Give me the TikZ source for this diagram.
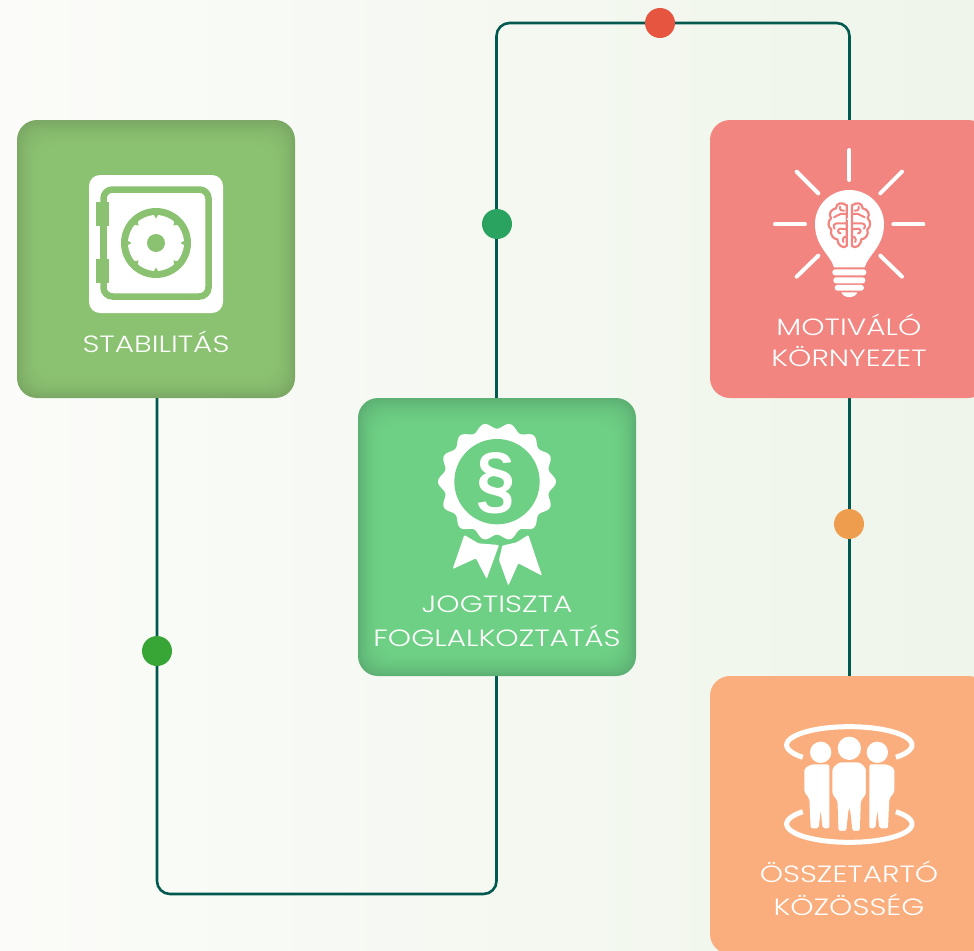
\documentclass[tikz,border=0pt]{standalone}
\usepackage{fontspec}
\setmainfont{Poppins Light}[FakeStretch=1.26]
\newfontfamily\symfont{Liberation Sans}
\definecolor{linec}{HTML}{00594F}
\definecolor{gA}{HTML}{8BC271}\definecolor{gAe}{HTML}{7BA864}
\definecolor{gB}{HTML}{6ED084}\definecolor{gBe}{HTML}{5DB073}
\definecolor{pk}{HTML}{F28580}
\definecolor{og}{HTML}{FBAE7D}
\definecolor{bgL}{HTML}{FBFCF9}\definecolor{bgR}{HTML}{EFF5EA}
\definecolor{dR}{HTML}{E5553F}\definecolor{dG}{HTML}{2AA360}\definecolor{dO}{HTML}{EE9C4E}\definecolor{dL}{HTML}{38A637}
\newcommand{\bevelbox}[4]{%
  \foreach \i in {0,...,27}{%
    \pgfmathsetmacro\pc{100*(1-\i/27)*(1-\i/27)}%
    \fill[#3!\pc!#4,rounded corners=20pt]
      ({#1-139+\i*0.9},{#2-139+\i*1.1}) rectangle ({#1+139-\i*0.9},{#2+139-\i*0.9});
  }%
}
\tikzset{
  boxnode/.style={rectangle,minimum width=278pt,minimum height=278pt,inner sep=0pt},
  conn/.style={draw=linec,line width=2.6pt,rounded corners=13pt},
  dotn/.style={circle,minimum size=30pt,inner sep=0pt},
  lab/.style={text=white,font=\fontsize{23.5}{25}\selectfont,inner sep=0pt,anchor=center},
  ray/.style={draw=white,line width=4pt,line cap=round}
}
\begin{document}
\begin{tikzpicture}[x=1pt,y=-1pt]
\useasboundingbox (0,0) rectangle (974,950);
\clip (0,0) rectangle (974,950);
\shade[left color=bgL,right color=bgR] (0,0) rectangle (974,950);
% box anchors
\node[boxnode] (stab) at (157,259) {};
\node[boxnode] (jog) at (496.5,537) {};
\node[boxnode] (mot) at (849.5,259) {};
\node[boxnode] (oss) at (849.5,815) {};
% connectors
\draw[conn] (stab.south) |- (496.5,894) -- (jog.south);
\draw[conn] (jog.north) |- (849.5,23) -- (mot.north);
\draw[conn] (mot.south) -- (oss.north);
% boxes
\bevelbox{156}{259}{gAe}{gA}
\bevelbox{497}{537}{gBe}{gB}
\fill[pk,rounded corners=20pt] (710,120) rectangle (988,398);
\fill[og,rounded corners=20pt] (710,676) rectangle (988,954);
% dots
\node[dotn,fill=dR] (d1) at (660,23) {};
\node[dotn,fill=dG] (d2) at (497,224) {};
\node[dotn,fill=dO] (d3) at (849,524) {};
\node[dotn,fill=dL] (d4) at (157,651) {};
% labels
\node[lab] (t1) at (156,341.5) {STABILITÁS};
\node[lab] (t2) at (849,324.5) {MOTIVÁLÓ};
\node[lab] (t3) at (849,356.5) {KÖRNYEZET};
\node[lab] (t4) at (497,604) {JOGTISZTA};
\node[lab] (t5) at (497,636) {FOGLALKOZTATÁS};
\node[lab] (t6) at (849,872) {ÖSSZETARTÓ};
\node[lab] (t7) at (849,905) {KÖZÖSSÉG};
% safe icon
\fill[white,rounded corners=11pt] (89,175) rectangle (223,313);
\draw[gA,line width=6.5pt,rounded corners=9pt] (103.5,189.5) rectangle (208.5,296.5);
\fill[white] (100,226) rectangle (110,259);
\fill[gA] (100,226) rectangle (107,259);
\fill[gA] (96,202) rectangle (109,226);
\fill[gA] (96,259) rectangle (109,283);
\fill[gA] (156,243) circle (35);
\fill[white] (156,243) circle (28);
\foreach \a in {0,45,...,315}{
  \fill[gA] ({156+29*cos(\a-5)},{243+29*sin(\a-5)}) -- ({156+24.5*cos(\a)},{243+24.5*sin(\a)}) -- ({156+29*cos(\a+5)},{243+29*sin(\a+5)}) -- cycle;
}
\fill[gA] (156,243) circle (9);
% bulb icon
\begin{scope}[shift={(760,140)},x=0.3333pt,y=-0.3333pt]
\draw[ray] (268,30) -- (268,120);
\draw[ray] (45,253) -- (135,253);
\draw[ray] (400,253) -- (490,253);
\draw[ray] (110,95) -- (175,160);
\draw[ray] (426,95) -- (361,160);
\draw[ray] (175,347) -- (110,410);
\draw[ray] (361,347) -- (426,410);
\fill[white] (222,382) .. controls (212,345) and (165,320) .. (165,252)
  .. controls (165,195) and (212,150) .. (268,150)
  .. controls (324,150) and (372,195) .. (372,252)
  .. controls (372,320) and (324,345) .. (314,382) -- cycle;
\fill[white,rounded corners=2.8pt] (217,388) rectangle (319,406);
\fill[white,rounded corners=2.8pt] (220,412) rectangle (316,430);
\fill[white,rounded corners=2.8pt] (224,435) rectangle (312,452);
\fill[white] (244,457) .. controls (250,476) and (286,476) .. (292,457) -- cycle;
% brain
\foreach \sx/\sh in {1/0,-1/536}{
\begin{scope}[shift={(\sh,0)},xscale=\sx]
\draw[pk,line width=2.2pt,line cap=round,line join=round]
  (258,195) .. controls (245,185) and (228,190) .. (228,205)
  .. controls (212,208) and (205,222) .. (213,235)
  .. controls (202,245) and (204,262) .. (214,268)
  .. controls (208,285) and (222,298) .. (232,298)
  .. controls (232,315) and (250,328) .. (260,318) -- (260,195);
\draw[pk,line width=2pt,line cap=round]
  (260,222) -- (242,222) .. controls (232,222) and (230,232) .. (222,232);
\draw[pk,line width=2pt,line cap=round]
  (240,200) .. controls (238,210) and (246,215) .. (252,212);
\draw[pk,line width=2pt,line cap=round]
  (260,250) -- (232,250) .. controls (222,250) and (218,258) .. (224,266);
\draw[pk,line width=2pt,line cap=round]
  (260,268) -- (240,266) .. controls (232,268) and (232,280) .. (242,280);
\draw[pk,line width=2pt,line cap=round]
  (260,292) .. controls (252,286) and (246,298) .. (250,306);
\end{scope}}
\fill[white] (265,192) rectangle (271,325);
\fill[white] (262,234) rectangle (274,240);
\end{scope}
% award icon
\begin{scope}[shift={(420,415)},x=0.3333pt,y=-0.3333pt]
\fill[white] plot[domain=0:360,samples=225,smooth] ({231+(168+9*cos(14*\x))*cos(\x)},{200+(168+9*cos(14*\x))*sin(\x)}) -- cycle;
\fill[gB] (231,200) circle (128);
\fill[white,rounded corners=1pt] (133,360) -- (175,385) -- (237,390) -- (200,492) -- (168,430) -- (98,462) -- cycle;
\fill[white,rounded corners=1pt] (325,360) -- (290,382) -- (247,392) -- (237,435) -- (265,512) -- (295,445) -- (366,482) -- cycle;
\node[text=white,inner sep=0pt,xscale=0.92,font=\symfont\bfseries\fontsize{76}{76}\selectfont] (para) at (228,205) {§};
\end{scope}
% people icon
\begin{scope}[shift={(770,715)},x=0.3333pt,y=-0.3333pt]
\draw[white,line width=5pt] plot[domain=138:402,samples=60,smooth] ({238+188*cos(\x)},{90+55*sin(\x)});
\draw[white,line width=5pt] plot[domain=222:-42,samples=60,smooth] ({238+188*cos(\x)},{327+55*sin(\x)});
\fill[white] (152,112) circle (32);
\fill[white] (322,112) circle (32);
\fill[white] (238,100) circle (35);
\fill[white,rounded corners=2pt] (125,148) -- (178,148) -- (178,340) -- (158,340) -- (152,285) -- (146,340) -- (122,340) -- (118,250) -- (103,232) -- (103,160) -- cycle;
\fill[white,rounded corners=2pt] (351,148) -- (298,148) -- (298,340) -- (316,340) -- (322,285) -- (328,340) -- (354,340) -- (358,250) -- (373,232) -- (373,160) -- cycle;
\filldraw[fill=white,draw=og,line width=1.6pt,rounded corners=2.5pt] (205,140) -- (272,140) -- (290,158) -- (290,240) -- (275,258) -- (272,350) -- (245,350) -- (238,285) -- (231,350) -- (203,350) -- (200,258) -- (185,240) -- (185,158) -- cycle;
\end{scope}
\end{tikzpicture}
\end{document}
